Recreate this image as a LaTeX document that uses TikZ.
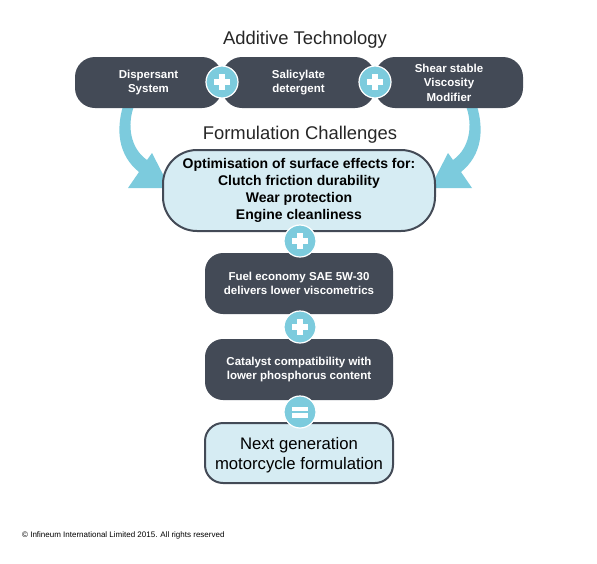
\documentclass[tikz,border=0pt]{standalone}
\usepackage{fontspec}
\setmainfont{Liberation Sans}
\definecolor{darkbox}{RGB}{67,74,86}
\definecolor{cyanc}{RGB}{124,203,221}
\definecolor{lightb}{RGB}{214,236,243}
\begin{document}
\begin{tikzpicture}[x=1pt,y=-1pt,
  darkstep/.style={fill=darkbox,rounded corners=20pt,text=white,font=\bfseries\fontsize{11.5}{14.5}\selectfont,align=center,inner sep=0pt},
  lightstep/.style={fill=lightb,draw=darkbox,line width=2pt,rounded corners=18pt,text=black,align=center,inner sep=0pt},
  opcirc/.style={circle,fill=cyanc,draw=white,line width=1.2pt,minimum size=32pt,inner sep=0pt},
  heading/.style={font=\fontsize{18.4}{22}\selectfont,text=black!85,inner sep=0pt},
  bigarrow/.style={fill=cyanc}]
\useasboundingbox (0,0) rectangle (597,563);
% arrows (behind boxes)
\fill[bigarrow] (123,106) .. controls (116,130) and (118,155) .. (139,172) -- (128,188) -- (170,188) -- (152,153) -- (147,160) .. controls (130,148) and (127,125) .. (134,106) -- cycle;
\begin{scope}[xshift=600pt,xscale=-1]
\fill[bigarrow] (123,106) .. controls (116,130) and (118,155) .. (139,172) -- (128,188) -- (170,188) -- (152,153) -- (147,160) .. controls (130,148) and (127,125) .. (134,106) -- cycle;
\end{scope}
% headings
\node[heading] (h1) at (305,39.5) {Additive Technology};
\node[heading] (h2) at (300,134.5) {Formulation Challenges};
% top boxes
\node[darkstep,minimum width=147pt,minimum height=51pt] (disp) at (148.5,82.5) {Dispersant\\System};
\node[darkstep,minimum width=153pt,minimum height=51pt] (sali) at (298.5,82.5) {Salicylate\\detergent};
\node[darkstep,minimum width=148pt,minimum height=51pt] (shear) at (449,82.5) {Shear stable\\Viscosity\\Modifier};
% big box
\node[lightstep,rounded corners=34pt,minimum width=272pt,minimum height=81pt,font=\bfseries\fontsize{14}{17}\selectfont] (opt) at (299,190.5) {Optimisation of surface effects for:\\Clutch friction durability\\Wear protection\\Engine cleanliness};
% column
\node[darkstep,rounded corners=18pt,minimum width=188pt,minimum height=61pt] (fuel) at (299,283.5) {Fuel economy SAE 5W-30\\delivers lower viscometrics};
\node[darkstep,rounded corners=18pt,minimum width=188pt,minimum height=61pt] (cat) at (299,369.5) {Catalyst compatibility with\\lower phosphorus content};
\node[lightstep,minimum width=188pt,minimum height=60pt] (next) at (299,453) {};
\node[align=center,inner sep=0pt,font=\fontsize{16.7}{20}\selectfont] (nexttext) at ([yshift=-2pt]next.center) {Next generation\\motorcycle formulation};
% operator circles
\node[opcirc] (p1) at (222,82) {};
\node[opcirc] (p2) at (375,82) {};
\node[opcirc] (p3) at (300,241) {};
\node[opcirc] (p4) at (300,327) {};
\node[opcirc] (eq) at (300,412) {};
\foreach \c in {p1,p2,p3,p4}{
  \fill[white] ([shift={(-8,-2.6)}]\c.center) rectangle ([shift={(8,2.6)}]\c.center);
  \fill[white] ([shift={(-2.6,-8)}]\c.center) rectangle ([shift={(2.6,8)}]\c.center);
}
\fill[white] ([shift={(-8,-5.5)}]eq.center) rectangle ([shift={(8,-1.3)}]eq.center);
\fill[white] ([shift={(-8,1.3)}]eq.center) rectangle ([shift={(8,5.5)}]eq.center);
% copyright
\node[anchor=west,inner sep=0pt,font=\fontsize{8}{9}\selectfont] (copy) at (22,535) {© Infineum International Limited 2015. All rights reserved};
\end{tikzpicture}
\end{document}
